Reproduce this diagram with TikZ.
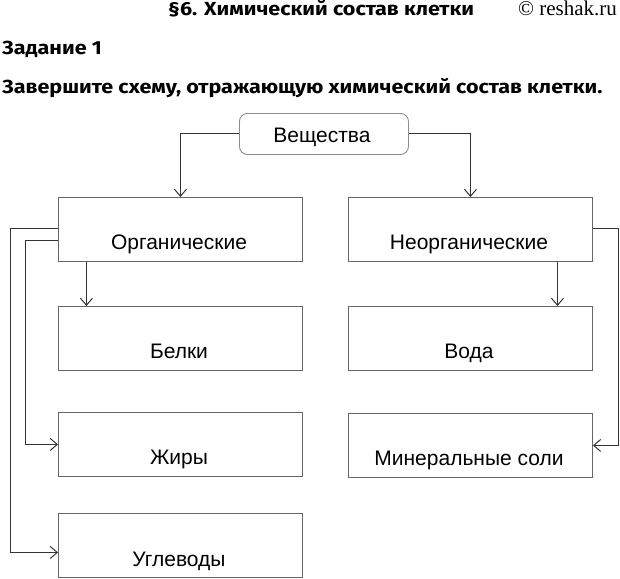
\documentclass[tikz,border=0pt]{standalone}
\usepackage{fontspec}
\setmainfont{Liberation Sans}
\newfontfamily\headfont[FakeStretch=1.14]{Fira Sans}
\newfontfamily\seriffont{Liberation Serif}
\usetikzlibrary{arrows.meta}
\begin{document}
\begin{tikzpicture}[x=1pt,y=-1pt,
  box/.style={draw=black!60,line width=0.9pt,minimum width=244pt,minimum height=64pt,inner sep=0pt,anchor=north west},
  lbl/.style={anchor=base,font=\fontsize{21}{24}\selectfont,inner sep=0pt},
  arr/.style={draw=black!80,line width=1pt,-{Straight Barb[length=7pt,width=12pt,line width=1pt]}},
  head/.style={anchor=base west,inner sep=0pt,font=\headfont\bfseries\fontsize{18.9}{22}\selectfont}]
\useasboundingbox (0,0) rectangle (620,578);
% header texts
\node[head] (title) at (168,16) {§6. Химический состав клетки};
\node[anchor=base west,inner sep=0pt,font=\seriffont\fontsize{21}{24}\selectfont] (site) at (518,16) {© reshak.ru};
\node[head] (task) at (2,55) {Задание 1};
\node[head] (instr) at (2,93) {Завершите схему, отражающую химический состав клетки.};
% boxes
\node[draw=black!45,line width=0.9pt,rounded corners=8pt,minimum width=169pt,minimum height=41pt,inner sep=0pt,anchor=north west] (v) at (239,113) {};
\node[lbl] (vt) at (322,142) {Вещества};
\node[box] (org) at (58,197) {};
\node[lbl] (orgt) at (179,249) {Органические};
\node[box] (neo) at (348,197) {};
\node[lbl] (neot) at (469,249) {Неорганические};
\node[box] (bel) at (58,306) {};
\node[lbl] (belt) at (179,358) {Белки};
\node[box] (zh) at (58,412) {};
\node[lbl] (zht) at (179,464) {Жиры};
\node[box] (ugl) at (58,513) {};
\node[lbl] (uglt) at (179,566) {Углеводы};
\node[box] (vod) at (348,306) {};
\node[lbl] (vodt) at (469,358) {Вода};
\node[box] (min) at (348,413) {};
\node[lbl] (mint) at (469,465) {Минеральные соли};
% connectors
\draw[arr] (v.west) -| (org.north);
\draw[arr] (v.east) -| (neo.north);
\draw[arr] ([xshift=-94pt]org.south) -- ([xshift=-94pt]bel.north);
\draw[arr] ([xshift=87pt]neo.south) -- ([xshift=87pt]vod.north);
\draw[arr] ([yshift=1pt]org.west) -- ++(-48,0) |- ([yshift=-7pt]ugl.west);
\draw[arr] ([yshift=-11pt]org.west) -- ++(-33,0) |- (zh.west);
\draw[arr] ([yshift=1pt]neo.east) -- ++(26,0) |- (min.east);
\end{tikzpicture}
\end{document}
